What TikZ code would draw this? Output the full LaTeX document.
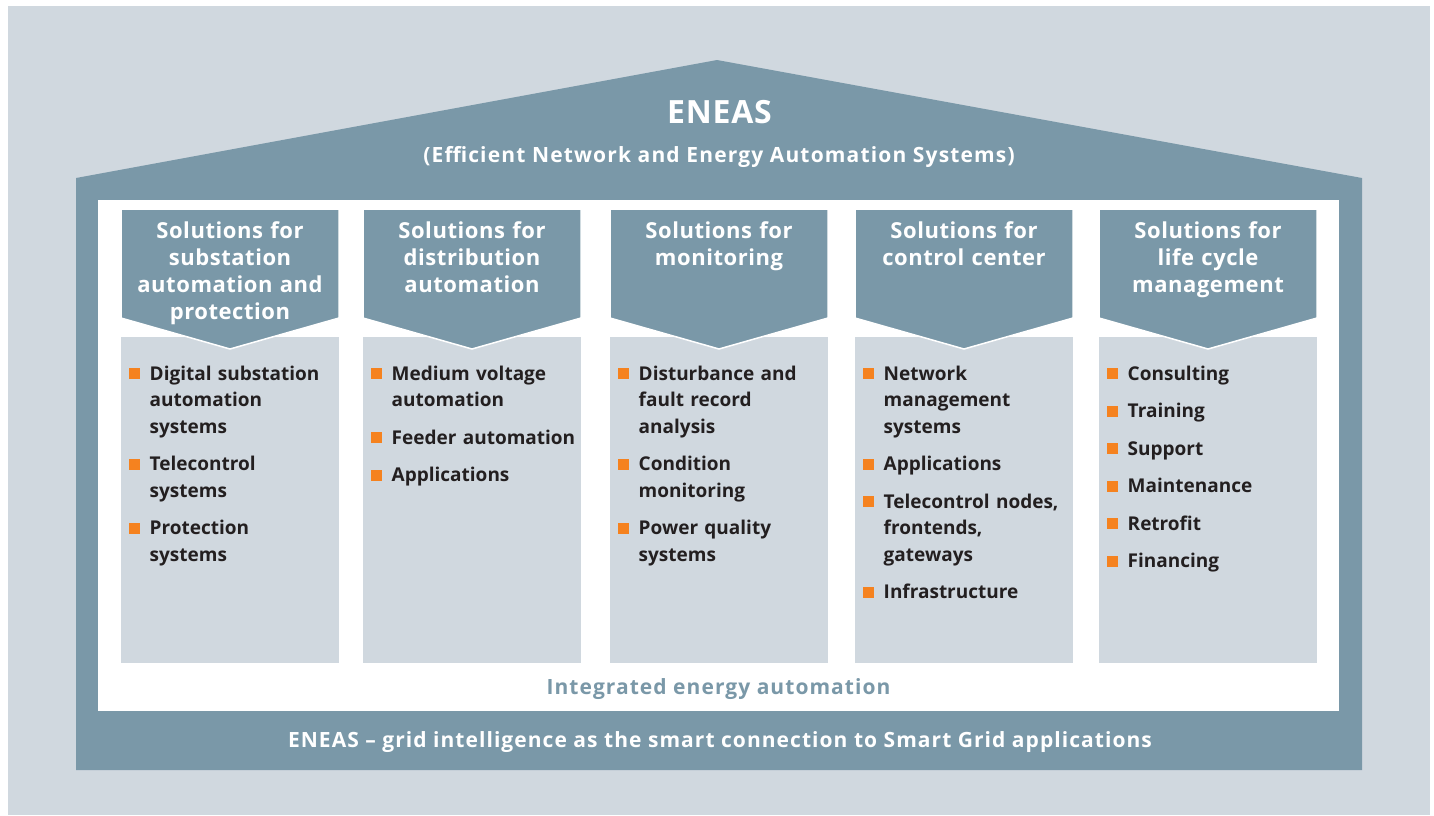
\documentclass[tikz,border=0pt]{standalone}
\usepackage{fontspec}
\setmainfont{Open Sans}
\newfontfamily\widefont[LetterSpace=5]{Open Sans}
\newfontfamily\subfont[LetterSpace=5.5]{Open Sans}
\newfontfamily\hdfont[LetterSpace=2.5]{Open Sans}
\definecolor{house}{HTML}{7A98A8}
\definecolor{pale}{HTML}{D0D8DF}
\definecolor{orng}{HTML}{F5821F}
\definecolor{ink}{HTML}{231F20}
\begin{document}
\begin{tikzpicture}[x=1pt,y=-1pt,
  hdr/.style={text=white, align=center, text width=214pt, inner sep=0pt, anchor=base,
    font=\hdfont\fontsize{22}{27}\selectfont\bfseries},
  itm/.style={text=ink, align=left, text width=190pt, inner sep=0pt, anchor=base west,
    font=\fontsize{19}{26.5}\selectfont\bfseries},
  chev/.style={fill=house, draw=white, line width=1.5pt, line join=miter}]
\newcommand\bul[4]{%
  \fill[orng] (#2+7.5,#3-12) rectangle ++(11.5,11);
  \node[itm] (#1) at (#2+28.5,#3) {#4};}
\useasboundingbox (0,0) rectangle (1434,815);
\fill[pale] (8,6) rectangle (1430,815);
\fill[house] (76,770) -- (76,178) -- (717,60) -- (1362,178) -- (1362,770) -- cycle;
\fill[white] (98,200) rectangle (1339,711);
\foreach \x in {121,363,610,855,1099}{
  \fill[pale] (\x,337) rectangle (\x+218,663);
  \filldraw[chev] (\x,209) -- (\x+218,209) -- (\x+218,318) -- (\x+109,349) -- (\x,318) -- cycle;
}
\node[text=white, anchor=base, inner sep=0pt, font=\hdfont\fontsize{32}{36}\selectfont\bfseries] (title) at (719.5,123) {ENEAS};
\node[text=white, anchor=base, inner sep=0pt, font=\subfont\fontsize{21}{24}\selectfont\bfseries] (subtitle) at (719,162) {(Efficient Network and Energy Automation Systems)};

\node[hdr] (h1) at (230,238) {Solutions for\\substation\\automation and\\protection};
\node[hdr] (h2) at (472,238) {Solutions for\\distribution\\automation};
\node[hdr] (h3) at (719,238) {Solutions for\\monitoring};
\node[hdr] (h4) at (964,238) {Solutions for\\control center};
\node[hdr] (h5) at (1208,238) {Solutions for\\life cycle\\management};

\bul{a1}{121}{380}{Digital substation\\automation\\systems}
\bul{a2}{121}{470.5}{Telecontrol\\systems}
\bul{a3}{121}{534.5}{Protection\\systems}

\bul{b1}{363}{380}{Medium voltage\\automation}
\bul{b2}{363}{444}{Feeder automation}
\bul{b3}{363}{481.5}{Applications}

\bul{c1}{610}{380}{Disturbance and\\fault record\\analysis}
\bul{c2}{610}{470.5}{Condition\\monitoring}
\bul{c3}{610}{534.5}{Power quality\\systems}

\bul{d1}{855}{380}{Network\\management\\systems}
\bul{d2}{855}{470.5}{Applications}
\bul{d3}{855}{508}{Telecontrol nodes,\\frontends,\\gateways}
\bul{d4}{855}{598.5}{Infrastructure}

\bul{e1}{1099}{380}{Consulting}
\bul{e2}{1099}{417.5}{Training}
\bul{e3}{1099}{455}{Support}
\bul{e4}{1099}{492.5}{Maintenance}
\bul{e5}{1099}{530}{Retrofit}
\bul{e6}{1099}{567.5}{Financing}

\node[text=house, anchor=base, inner sep=0pt, font=\widefont\fontsize{21}{24}\selectfont\bfseries] (integ) at (718.5,694) {Integrated energy automation};
\node[text=white, anchor=base, inner sep=0pt, font=\widefont\fontsize{21}{24}\selectfont\bfseries] (bottom) at (720,747) {ENEAS – grid intelligence as the smart connection to Smart Grid applications};
\end{tikzpicture}
\end{document}
